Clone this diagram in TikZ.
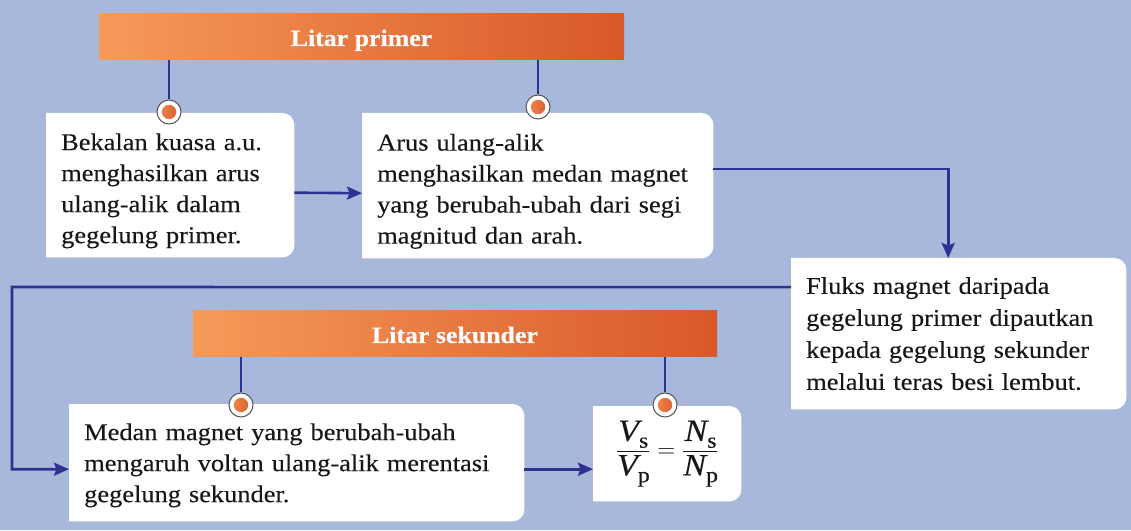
\documentclass[tikz,border=0pt]{standalone}
\usepackage{fontspec}
\usepackage{amsmath}
\setmainfont{Liberation Serif}[FakeStretch=1.1,FakeBold=0.2]
\usetikzlibrary{arrows.meta,backgrounds}
\definecolor{bgblue}{RGB}{168,184,219}
\definecolor{linkblue}{RGB}{46,49,146}
\definecolor{orA}{RGB}{246,154,88}
\definecolor{orB}{RGB}{217,88,41}
\definecolor{ringgray}{RGB}{85,85,85}
\definecolor{txt}{RGB}{25,22,23}
\newcommand\rboxfill[1]{%
  \fill[white] (#1.north west) -- ([xshift=-12pt]#1.north east)
    arc[start angle=90,end angle=0,radius=12pt] -- ([yshift=12pt]#1.south east)
    arc[start angle=0,end angle=-90,radius=12pt] -- (#1.south west) -- cycle;}
\newcommand\lsub[1]{_{\raisebox{-3pt}{$\scriptstyle\mathrm{#1}$}}}
\begin{document}
\begin{tikzpicture}[x=1pt,y=1pt,
  bar/.style={left color=orA, right color=orB, minimum height=46pt, inner sep=0pt, text=white,
    font=\fontsize{23.5}{26}\selectfont\bfseries, text depth=0pt, text height=18pt},
  textbox/.style={anchor=north west, inner xsep=15pt, inner ysep=0pt, align=left, text=txt, font=\fontsize{24}{31}\selectfont},
  topgap/.style={execute at begin node={\rule{0pt}{#1}}},
  link/.style={draw=linkblue, line width=2.6pt},
  arr/.style={link, -{Stealth[length=15pt,width=13pt,inset=2.5pt]}},
  ring/.style={circle, draw=ringgray, line width=1pt, fill=white, minimum size=24pt, inner sep=0pt,
    path picture={\shade[left color=orA!80!orB, right color=orB] (path picture bounding box.center) circle (7.2pt);}}
]
\useasboundingbox (0,0) rectangle (1131,530);
\begin{scope}[on background layer]
\fill[bgblue] (0,0) rectangle (1131,530);
\end{scope}

\node[bar, minimum width=525pt] (bar1) at (361.5,493) {Litar primer};
\node[bar, minimum width=524pt] (bar2) at (455,196) {Litar sekunder};

\node[textbox, topgap=28pt, text width=218pt, minimum width=248pt, minimum height=144pt] (b1) at (46,417)
  {Bekalan kuasa a.u.\\ menghasilkan arus\\ ulang-alik dalam\\ gegelung primer.};
\node[textbox, topgap=28pt, text width=321pt, minimum width=351pt, minimum height=145pt] (b2) at (362,417)
  {Arus ulang-alik\\ menghasilkan medan magnet\\ yang berubah-ubah dari segi\\ magnitud dan arah.};
\node[textbox, font=\fontsize{24}{32}\selectfont, text width=305pt, minimum width=335pt, minimum height=151pt] (fl) at (791,272)
  {Fluks magnet daripada\\ gegelung primer dipautkan\\ kepada gegelung sekunder\\ melalui teras besi lembut.};
\node[textbox, topgap=22pt, text width=425pt, minimum width=455pt, minimum height=117pt] (md) at (69,126)
  {Medan magnet yang berubah-ubah\\ mengaruh voltan ulang-alik merentasi\\ gegelung sekunder.};
\node[anchor=north west, minimum width=148pt, minimum height=95pt, inner sep=0pt, text=txt,
  font=\fontsize{31}{34}\selectfont] (fm) at (593,124)
  {$\dfrac{\textit{V}\lsub{s}}{\textit{V}\lsub{p}}=\dfrac{\textit{N}\lsub{s}}{\textit{N}\lsub{p}}$};

\begin{scope}[on background layer]
\rboxfill{b1}
\rboxfill{b2}
\rboxfill{fl}
\rboxfill{md}
\rboxfill{fm}
\end{scope}

\node[ring] (c1) at (169,418) {};
\node[ring] (c2) at (538,423) {};
\node[ring] (c3) at (241,125) {};
\node[ring] (c4) at (665,125) {};
\draw[link] (bar1.south -| c1) -- (c1);
\draw[link] (bar1.south -| c2) -- (c2);
\draw[link] (bar2.south -| c3) -- (c3);
\draw[link] (bar2.south -| c4) -- (c4);

\draw[arr] ([yshift=-7.5pt]b1.east) -- ([yshift=-7.5pt]b2.west);
\draw[arr] ([yshift=16.5pt]b2.east) -| ([xshift=-10.5pt]fl.north);
\coordinate (lc) at (12,243);
\draw[arr] ([yshift=46.5pt]fl.west) -- (lc) |- ([yshift=-6.5pt]md.west);
\draw[arr] ([yshift=-6.5pt]md.east) -- ([yshift=-15.5pt]fm.west);
\end{tikzpicture}
\end{document}
